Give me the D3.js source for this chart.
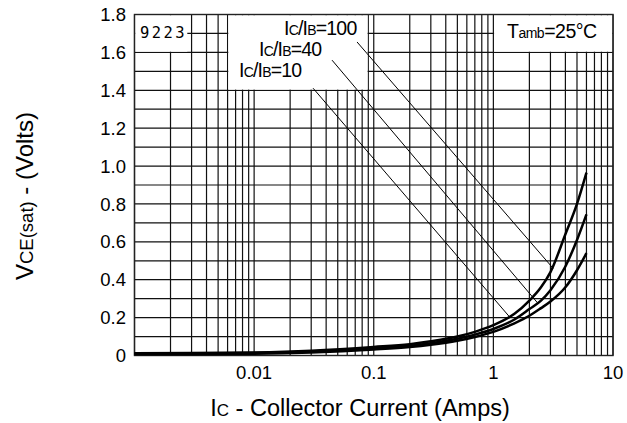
<!DOCTYPE html>
<html><head><meta charset="utf-8">
<script src="https://cdn.jsdelivr.net/npm/d3@7"></script>
<style>
html,body{margin:0;padding:0;background:#fff;}
svg text{font-family:"Liberation Sans",Arial,sans-serif;fill:#000;}
</style></head>
<body><svg id="c" width="627" height="423"></svg>
<script>
// ---- data ----
const currents = [0.001, 0.003, 0.01, 0.03, 0.1, 0.2, 0.3, 0.5, 0.7, 1, 1.5, 2, 2.5, 3, 4, 5, 6];
const vce100 = [0.012, 0.013, 0.016, 0.025, 0.045, 0.06, 0.075, 0.10, 0.125, 0.16, 0.22, 0.29, 0.36, 0.44, 0.64, 0.80, 0.965];
const vce40  = [0.010, 0.011, 0.013, 0.021, 0.038, 0.052, 0.065, 0.088, 0.11, 0.14, 0.19, 0.245, 0.29, 0.345, 0.47, 0.61, 0.745];
const vce10  = [0.006, 0.007, 0.009, 0.016, 0.032, 0.045, 0.057, 0.078, 0.098, 0.125, 0.17, 0.21, 0.25, 0.285, 0.36, 0.45, 0.54];
const xTickValues = [0.01, 0.1, 1, 10];
const xTickLabels = ["0.01", "0.1", "1", "10"];
const yTickValues = [0, 0.2, 0.4, 0.6, 0.8, 1.0, 1.2, 1.4, 1.6, 1.8];
const yTickLabels = ["0", "0.2", "0.4", "0.6", "0.8", "1.0", "1.2", "1.4", "1.6", "1.8"];
// leader lines: [x1, y1, x2, y2] in data units (Amps, Volts)
const leader100 = [0.0725, 1.655, 3.16, 0.46];
const leader40  = [0.0448, 1.559, 2.36, 0.275];
const leader10  = [0.0311, 1.411, 1.377, 0.201];

const svg = d3.select("#c");
const L = 134.5, R = 613, T = 14.5, B = 355.5;
const x = d3.scaleLog().domain([0.001, 10]).range([L, R]);
const y = d3.scaleLinear().domain([0, 1.8]).range([B, T]);

// grid
const vgrid = [];
for (let k = -3; k <= 0; k++) for (let m = 1; m <= 9; m++) vgrid.push(m * Math.pow(10, k));
vgrid.push(10);
const hgrid = d3.range(0, 19).map(i => i / 10);
const g = svg.append("g");
g.selectAll("line.v").data(vgrid).join("line")
  .attr("x1", d => x(d)).attr("x2", d => x(d)).attr("y1", T).attr("y2", B)
  .attr("stroke", "#111").attr("stroke-width", 1.2);
g.selectAll("line.h").data(hgrid).join("line")
  .attr("x1", L).attr("x2", R).attr("y1", d => y(d)).attr("y2", d => y(d))
  .attr("stroke", "#111").attr("stroke-width", 1.2);

// white label boxes
const boxes = [
  [0.001, 0.0028, 1.6, 1.8],
  [0.006, 0.09, 1.4, 1.8],
  [1, 10, 1.6, 1.8]
];
svg.selectAll("rect.box").data(boxes).join("rect")
  .attr("x", d => x(d[0]) + 0.7).attr("width", d => x(d[1]) - x(d[0]) - 1.4)
  .attr("y", d => y(d[3]) + 0.7).attr("height", d => y(d[2]) - y(d[3]) - 1.4)
  .attr("fill", "#fff");

// border
svg.append("rect").attr("x", L).attr("y", T).attr("width", R - L).attr("height", B - T)
  .attr("fill", "none").attr("stroke", "#222").attr("stroke-width", 1.4);

// leader lines
svg.selectAll("line.lead").data([leader100, leader40, leader10]).join("line")
  .attr("x1", d => x(d[0])).attr("y1", d => y(d[1]))
  .attr("x2", d => x(d[2])).attr("y2", d => y(d[3]))
  .attr("stroke", "#000").attr("stroke-width", 1);

// curves
const line = d3.line().x(d => x(d[0])).y(d => y(d[1])).curve(d3.curveMonotoneX);
[vce100, vce40, vce10].forEach(s => {
  svg.append("path").datum(currents.map((c, i) => [c, s[i]]))
    .attr("d", line).attr("fill", "none").attr("stroke", "#000").attr("stroke-width", 2.5);
});

// tick labels
svg.selectAll("text.yt").data(yTickValues).join("text")
  .attr("x", 126).attr("y", d => y(d)).attr("dy", "0.36em")
  .attr("text-anchor", "end").attr("font-size", 18.5)
  .text((d, i) => yTickLabels[i]);
svg.selectAll("text.xt").data(xTickValues).join("text")
  .attr("x", d => x(d)).attr("y", 379)
  .attr("text-anchor", "middle").attr("font-size", 18.5)
  .text((d, i) => xTickLabels[i]);

// axis titles
const xt = svg.append("text").attr("x", 360).attr("y", 416).attr("text-anchor", "middle").attr("font-size", 23.5);
xt.append("tspan").text("I");
xt.append("tspan").attr("font-size", 17).text("C");
xt.append("tspan").text(" - Collector Current (Amps)");

const yt = svg.append("text").attr("transform", "translate(33,196) rotate(-90)").attr("text-anchor", "middle").attr("font-size", 24);
yt.append("tspan").text("V");
yt.append("tspan").attr("font-size", 18.5).text("CE(sat)");
yt.append("tspan").text(" - (Volts)");

// in-plot labels
svg.append("text").attr("x", 140).attr("y", 37.5).attr("font-size", 15.5)
  .style("font-family", "'DejaVu Sans Mono', monospace").attr("letter-spacing", 2.4).text("9223");

function ratioLabel(xp, yp, val) {
  const t = svg.append("text").attr("x", xp).attr("y", yp).attr("font-size", 19.5).attr("letter-spacing", -0.8);
  t.append("tspan").text("I");
  t.append("tspan").attr("font-size", 14).text("C");
  t.append("tspan").text("/I");
  t.append("tspan").attr("font-size", 14).text("B");
  t.append("tspan").text("=" + val);
}
ratioLabel(284, 35, "100");
ratioLabel(259, 56, "40");
ratioLabel(239, 77, "10");

const ta = svg.append("text").attr("x", 507).attr("y", 38).attr("font-size", 19.5).attr("letter-spacing", -0.5);
ta.append("tspan").text("T");
ta.append("tspan").attr("font-size", 14).text("amb");
ta.append("tspan").text("=25°C");
</script></body></html>
